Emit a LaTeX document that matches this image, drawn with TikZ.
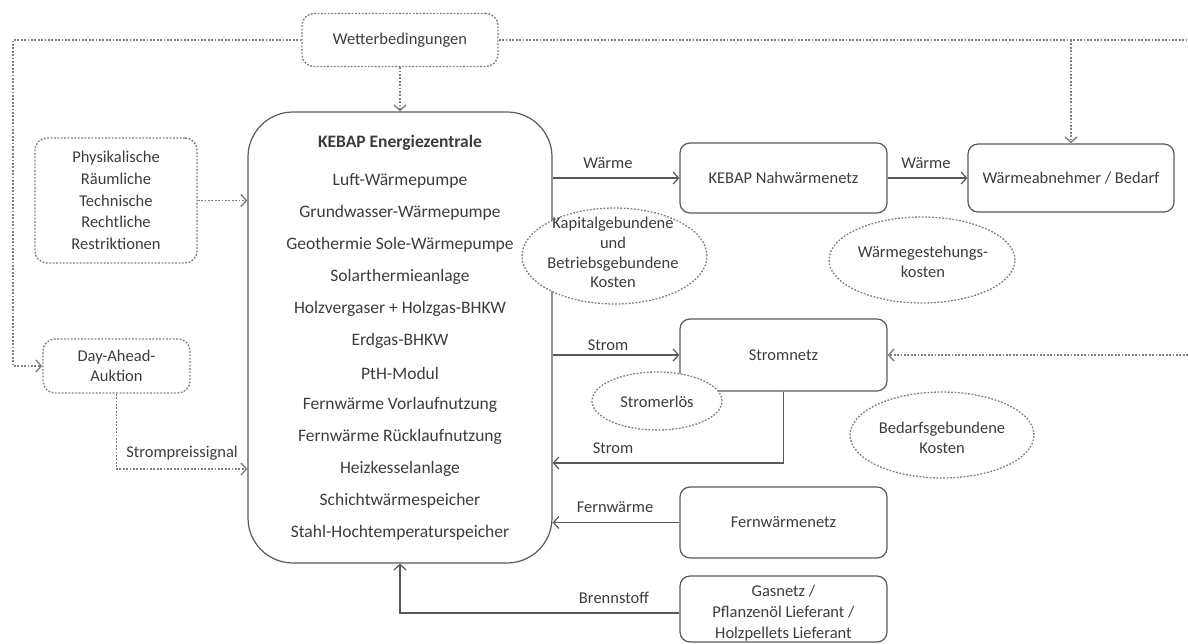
\documentclass[tikz,border=0pt]{standalone}
\usepackage{fontspec}
\setmainfont{Carlito}
\usetikzlibrary{arrows.meta,shapes.geometric,calc}
\definecolor{txt}{HTML}{3C3C3C}
\definecolor{edge}{HTML}{595959}
\definecolor{dotc}{HTML}{808080}

\tikzset{
  base/.style={font=\fontsize{16.5}{20}\selectfont, text=txt},
  box/.style={base, draw=edge, line width=1.2pt, rounded corners=10pt, align=center, inner sep=0pt},
  dbox/.style={base, draw=dotc, line width=1.4pt, dash pattern=on 1.8pt off 1.6pt, rounded corners=12pt, align=center, inner sep=0pt},
  cost/.style={ellipse, draw=dotc, fill=white, line width=1.3pt, dash pattern=on 1.8pt off 1.6pt, inner sep=0pt},
  costtext/.style={base, align=center, inner sep=0pt},
  item/.style={font=\fontsize{17.5}{20}\selectfont, text=txt, inner sep=0pt},
  lbl/.style={base, inner sep=0pt},
  flow/.style={draw=edge, line width=1.2pt, -{Straight Barb[length=5.5pt,width=12pt]}},
  cueline/.style={draw=dotc, line width=1.4pt, dash pattern=on 1.8pt off 1.6pt},
  cue/.style={cueline, -{Straight Barb[length=5.5pt,width=12pt]}},
}

\begin{document}
\begin{tikzpicture}[x=1pt,y=-1pt]
\useasboundingbox (0,0) rectangle (1188,644);

% energy centre
\node[draw=edge, line width=1.2pt, rounded corners=45pt, minimum width=304pt, minimum height=451pt, inner sep=0pt] (main) at (400,337.5) {};
\node[item, font=\fontsize{17.5}{20}\selectfont\bfseries] (title) at (400,143) {KEBAP Energiezentrale};
\foreach \t [count=\i] in {Luft-Wärmepumpe, Grundwasser-Wärmepumpe, Geothermie Sole-Wärmepumpe, Solarthermieanlage, Holzvergaser + Holzgas-BHKW, Erdgas-BHKW, PtH-Modul, Fernwärme Vorlaufnutzung, Fernwärme Rücklaufnutzung, Heizkesselanlage, Schichtwärmespeicher, Stahl-Hochtemperaturspeicher}
  \node[item] (item\i) at (400,149+32*\i) {\t};

% external influences
\node[dbox, minimum width=196pt, minimum height=53pt] (wetter) at (400,40) {Wetterbedingungen};
\node[dbox, minimum width=162pt, minimum height=125pt, font=\fontsize{16.5}{21.75}\selectfont] (restr) at (116,200.5) {Physikalische\\Räumliche\\Technische\\Rechtliche\\Restriktionen};
\node[dbox, minimum width=147pt, minimum height=54pt] (ahead) at (116.5,366) {Day-Ahead-\\Auktion};

% networks and consumers
\node[box, minimum width=207pt, minimum height=70pt] (nah) at (783.5,178) {KEBAP Nahwärmenetz};
\node[box, minimum width=206pt, minimum height=68pt] (abn) at (1071,178) {Wärmeabnehmer / Bedarf};
\node[box, minimum width=207pt, minimum height=72pt] (strom) at (783.5,355) {Stromnetz};
\node[box, minimum width=207pt, minimum height=71pt] (fern) at (783.5,522.5) {Fernwärmenetz};
\node[box, minimum width=207pt, minimum height=66pt] (gas) at (783.5,609) {};
\node[costtext, font=\fontsize{16.5}{21}\selectfont] (gastext) at (783.5,613) {Gasnetz /\\Pflanzenöl Lieferant /\\Holzpellets Lieferant};

% free ends of connectors
\coordinate (lt) at (13,40);
\coordinate (lb) at (13,366);
\coordinate (rt) at (1188,40);
\coordinate (re) at (1188,355);
\coordinate (sp) at (116,469);
\coordinate (sr) at (785,463);
\coordinate (bs) at (400,613);

% dotted influences
\draw[cue] (wetter) -- (main);
\draw[cue] (wetter.west) -- (lt) -- (lb) -- (ahead.west);
\draw[cueline] (wetter.east) -- (rt);
\draw[cue] (abn.north |- rt) -- (abn.north);
\draw[cue] (restr.east) -- (restr.east -| main.west);
\draw[cue] (ahead.south) -- (ahead.south |- sp) -- (sp -| main.west);
\draw[cue] (re) -- (strom.east);

% energy flows
\draw[flow] (nah.west -| main.east) -- (nah.west);
\draw[flow] (nah) -- (abn);
\draw[flow] (strom.west -| main.east) -- (strom.west);
\draw[flow] (strom.south) -- (strom.south |- sr) -- (sr -| main.east);
\draw[flow] (fern.west) -- (fern.west -| main.east);
\draw[flow] (gas.west |- bs) -- (bs) -- (main.south);

% flow labels
\node[lbl] (lw1) at (608,163) {Wärme};
\node[lbl] (lw2) at (926,163) {Wärme};
\node[lbl] (ls1) at (608,345) {Strom};
\node[lbl] (ls2) at (613,448) {Strom};
\node[lbl] (lf) at (615,507) {Fernwärme};
\node[lbl] (lb2) at (614,598) {Brennstoff};
\node[lbl] (lsp) at (182,453) {Strompreissignal};

% cost bubbles
\node[cost, minimum width=185pt, minimum height=96pt] (kap) at (614.5,256) {};
\node[costtext, font=\fontsize{16.5}{19.7}\selectfont] (kaptext) at (613,252.5) {Kapitalgebundene\\und\\Betriebsgebundene\\Kosten};
\node[cost, minimum width=186pt, minimum height=86pt] (gest) at (922,260) {};
\node[costtext] (gesttext) at (923,262) {Wärmegestehungs-\\kosten};
\node[cost, minimum width=130pt, minimum height=58pt] (erl) at (657,401) {};
\node[costtext] (erltext) at (657,402) {Stromerlös};
\node[cost, minimum width=184pt, minimum height=86pt] (bed) at (942,435) {};
\node[costtext] (bedtext) at (942,437.5) {Bedarfsgebundene\\Kosten};
\end{tikzpicture}
\end{document}
